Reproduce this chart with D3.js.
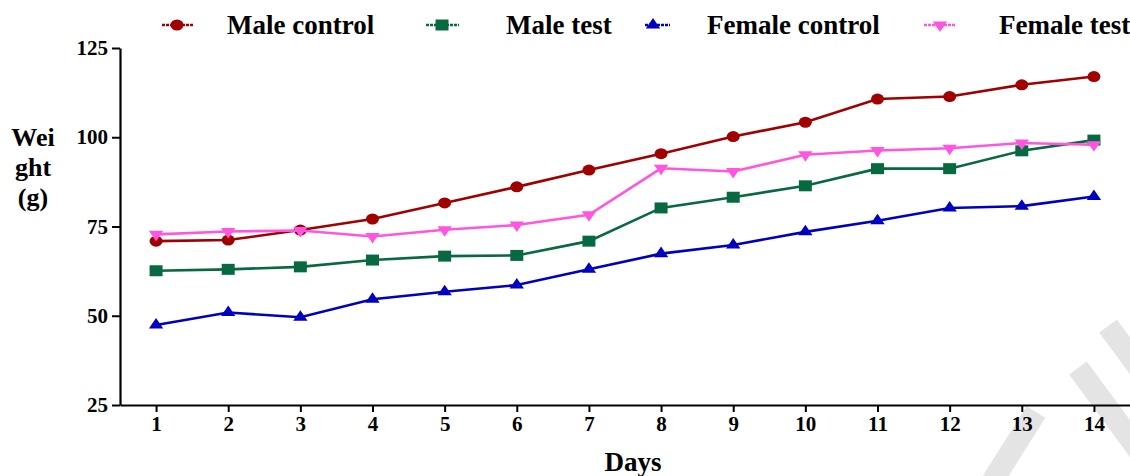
<!DOCTYPE html>
<html>
<head>
<meta charset="utf-8">
<script src="https://cdn.jsdelivr.net/npm/d3@7"></script>
<style>
  body { margin: 0; background: #fff; }
  svg { display: block; }
</style>
</head>
<body>
<div id="chart"></div>
<script>
// Data
var days = [1, 2, 3, 4, 5, 6, 7, 8, 9, 10, 11, 12, 13, 14];
var maleControl = [70.9, 71.2, 74.0, 77.1, 81.6, 86.1, 90.8, 95.4, 100.2, 104.2, 110.7, 111.4, 114.7, 117.0];
var maleTest = [62.6, 63.0, 63.7, 65.6, 66.7, 66.9, 70.9, 80.2, 83.2, 86.4, 91.2, 91.2, 96.2, 99.2];
var femaleControl = [47.4, 50.9, 49.6, 54.6, 56.7, 58.6, 63.0, 67.4, 69.8, 73.5, 76.6, 80.2, 80.7, 83.4];
var femaleTest = [72.8, 73.6, 73.9, 72.2, 74.1, 75.4, 78.3, 91.3, 90.4, 95.1, 96.3, 96.9, 98.4, 97.9];
var yTicks = [25, 50, 75, 100, 125];

var series = [
  { name: "Male control", values: maleControl, color: "#a00000", shape: "circle", legendX: 177, lineX: [162, 193], textX: 227 },
  { name: "Male test", values: maleTest, color: "#07693f", shape: "square", legendX: 442, lineX: [426, 459], textX: 506 },
  { name: "Female control", values: femaleControl, color: "#0000c0", shape: "up", legendX: 653, lineX: [645, 670], textX: 707 },
  { name: "Female test", values: femaleTest, color: "#ff55e0", shape: "down", legendX: 940, lineX: [924, 956], textX: 999 }
];

var svgWidth = 1130;
var svgHeight = 476;
var font = "'Liberation Serif', 'Times New Roman', serif";

var svg = d3.select("#chart")
  .append("svg")
  .attr("width", svgWidth)
  .attr("height", svgHeight)
  .style("font-family", font)
  .style("font-weight", "bold");

// faint watermark strokes in the bottom right corner
var wm = svg.append("g")
  .attr("stroke", "#e4e4e4")
  .attr("stroke-width", 22)
  .attr("stroke-linecap", "butt");
wm.append("line").attr("x1", 1078).attr("y1", 368).attr("x2", 1140).attr("y2", 452);
wm.append("line").attr("x1", 1036).attr("y1", 412).attr("x2", 990).attr("y2", 485);
wm.append("line").attr("x1", 1108).attr("y1", 326).attr("x2", 1142).attr("y2", 372);

// scales
var x = d3.scaleLinear().domain([0.5, 14.5]).range([120, 1130]);
var y = d3.scaleLinear().domain([25, 125]).range([405, 48]);

// markers
function markerPath(shape) {
  if (shape === "circle") return d3.symbol(d3.symbolCircle, 95)();
  if (shape === "square") return d3.symbol(d3.symbolSquare, 121)();
  return d3.symbol(d3.symbolTriangle, 64)();
}
function markerTransform(shape, cx, cy) {
  var rot = shape === "down" ? " rotate(180)" : "";
  return "translate(" + cx + "," + cy + ") scale(1.18,1)" + rot;
}

// axes
var yAxis = d3.axisLeft(y).tickValues(yTicks).tickSize(8).tickSizeOuter(0).tickPadding(4);
var xAxis = d3.axisBottom(x).tickValues(days).tickSize(7).tickSizeOuter(0).tickPadding(4);

var gy = svg.append("g")
  .attr("transform", "translate(120,0)")
  .call(yAxis);

var gx = svg.append("g")
  .attr("transform", "translate(0,405)")
  .call(xAxis);

[gx, gy].forEach(function(g) {
  g.select(".domain").attr("stroke", "#000").attr("stroke-width", 2.2);
  g.selectAll(".tick line").attr("stroke", "#000").attr("stroke-width", 2);
  g.selectAll(".tick text")
    .attr("fill", "#000")
    .style("font-family", font)
    .style("font-weight", "bold")
    .style("font-size", "21px");
});

// lines + markers
var line = d3.line()
  .x(function(d, i) { return x(days[i]); })
  .y(function(d) { return y(d); });

series.forEach(function(s) {
  svg.append("path")
    .datum(s.values)
    .attr("fill", "none")
    .attr("stroke", s.color)
    .attr("stroke-width", 2.6)
    .attr("d", line);

  svg.selectAll(null)
    .data(s.values)
    .enter()
    .append("path")
    .attr("d", markerPath(s.shape))
    .attr("fill", s.color)
    .attr("transform", function(d, i) { return markerTransform(s.shape, x(days[i]), y(d)); });
});

// legend
var legend = svg.append("g");
series.forEach(function(s) {
  legend.append("line")
    .attr("x1", s.lineX[0]).attr("x2", s.lineX[1])
    .attr("y1", 25).attr("y2", 25)
    .attr("stroke", s.color)
    .attr("stroke-width", 2.4)
    .attr("stroke-dasharray", "3,1");
  legend.append("path")
    .attr("d", markerPath(s.shape))
    .attr("fill", s.color)
    .attr("transform", markerTransform(s.shape, s.legendX, 25));
  legend.append("text")
    .attr("x", s.textX)
    .attr("y", 34)
    .attr("fill", "#000")
    .style("font-size", "27px")
    .text(s.name);
});

// axis titles
svg.append("text")
  .attr("x", 633)
  .attr("y", 471)
  .attr("text-anchor", "middle")
  .style("font-size", "27px")
  .text("Days");

var yTitle = svg.append("text")
  .attr("text-anchor", "middle")
  .style("font-size", "26px");
["Wei", "ght", "(g)"].forEach(function(t, i) {
  yTitle.append("tspan")
    .attr("x", 33)
    .attr("y", 146 + i * 30)
    .text(t);
});
</script>
</body>
</html>
